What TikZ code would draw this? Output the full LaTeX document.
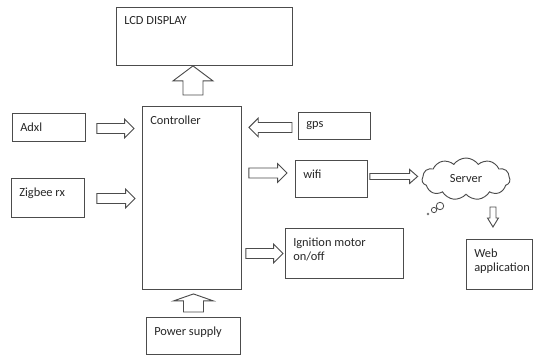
\documentclass[tikz,border=0pt]{standalone}
\usepackage{fontspec}
\setmainfont{Carlito}
\usetikzlibrary{calc,positioning,shapes.symbols}

% hollow block arrow: from, to, shaft half width, head half width, head length
\newcommand{\hollowarrow}[5]{%
  \coordinate (ha) at #1;
  \coordinate (hb) at #2;
  \coordinate (hh) at ($(hb)!#5!(ha)$);
  \draw[harrow] ($(ha)!#3!90:(hb)$) -- ($(hh)!#3!-90:(ha)$) -- ($(hh)!#4!-90:(ha)$)
    -- (hb) -- ($(hh)!#4!90:(ha)$) -- ($(hh)!#3!90:(ha)$) -- ($(ha)!#3!-90:(hb)$) -- cycle;
}

\begin{document}
\begin{tikzpicture}[
    x=0.75pt, y=-0.75pt,
    font=\fontsize{9.3}{11}\selectfont,
    box/.style={rectangle, draw=black!70, line width=0.7pt, anchor=north west, inner sep=0pt},
    txt/.style={anchor=north west, inner sep=0pt, xshift=6pt, yshift=-7pt,
                align=left, text=black!85},
    harrow/.style={draw=black!70, fill=white, line width=0.7pt, line join=miter}
  ]
  \useasboundingbox (0,0) rectangle (541,356);

  \node[box, minimum width=132pt, minimum height=43.5pt, label={[txt]north west:LCD DISPLAY}] (lcd) at (116,7) {};
  \node[box, minimum width=74.25pt, minimum height=137.25pt, label={[txt]north west:Controller}] (ctrl) at (142,106) {};
  \node[box, minimum width=54.75pt, minimum height=21pt, label={[txt]north west:Adxl}] (adxl) at (12,113) {};
  \node[box, minimum width=54.75pt, minimum height=29.25pt, label={[txt]north west:Zigbee rx}] (zig) at (11,178) {};
  \node[box, minimum width=54pt, minimum height=20.25pt, label={[txt]north west:gps}] (gps) at (298,112) {};
  \node[box, minimum width=54pt, minimum height=27.75pt, label={[txt]north west:wifi}] (wifi) at (295,160) {};
  \node[box, minimum width=88.5pt, minimum height=37.5pt, label={[txt]north west:Ignition motor\\on/off}] (ign) at (285,228) {};
  \node[box, minimum width=49.5pt, minimum height=37.5pt, label={[txt]north west:Web\\application}] (web) at (466,239) {};
  \node[box, minimum width=70.5pt, minimum height=27.75pt, label={[txt]north west:Power supply}] (power) at (146,317) {};

  \node[cloud, draw=black!70, line width=0.7pt, cloud puffs=11, cloud puff arc=110, aspect=2.1,
        minimum width=66pt, minimum height=31.5pt, inner sep=0pt, text=black!85] (server) at (466,179) {Server};
  \draw[draw=black!70, line width=0.6pt] (440,206) circle (2.8pt) (434,210) circle (2pt);
  \fill[black!55] (428,214) circle (1.1pt);

  \hollowarrow{($(ctrl.north)+(1,-11)$)}{($(ctrl.north |- lcd.south)+(1,0)$)}{7.5pt}{15pt}{11.25pt}
  \hollowarrow{($(adxl.east)+(11,1)$)}{($(adxl.east -| ctrl.west)+(-8,1)$)}{3.75pt}{7pt}{7pt}
  \hollowarrow{($(zig.east)+(12,0.5)$)}{($(zig.east -| ctrl.west)+(-7,0.5)$)}{3.75pt}{7pt}{7pt}
  \hollowarrow{($(gps.west)+(-6,1.5)$)}{($(gps.west -| ctrl.east)+(7,1.5)$)}{3.75pt}{7pt}{7pt}
  \hollowarrow{($(wifi.west -| ctrl.east)+(7,-6)$)}{($(wifi.west)+(-8,-6)$)}{3.75pt}{7pt}{7pt}
  \hollowarrow{($(ign.west -| ctrl.east)+(4,0)$)}{($(ign.west)+(-2,0)$)}{3.75pt}{7pt}{7pt}
  \hollowarrow{($(wifi.east)+(2,-2.5)$)}{($(wifi.east -| server.west)+(-4,-2.5)$)}{2.25pt}{5.25pt}{6pt}
  \hollowarrow{($(web.north)+(-6.5,-32)$)}{($(web.north)+(-6.5,-12)$)}{2.25pt}{4.1pt}{6.75pt}
  \hollowarrow{($(power.north)+(0,-5)$)}{($(power.north |- ctrl.south)+(0,4)$)}{7.5pt}{15pt}{5.25pt}
\end{tikzpicture}
\end{document}
